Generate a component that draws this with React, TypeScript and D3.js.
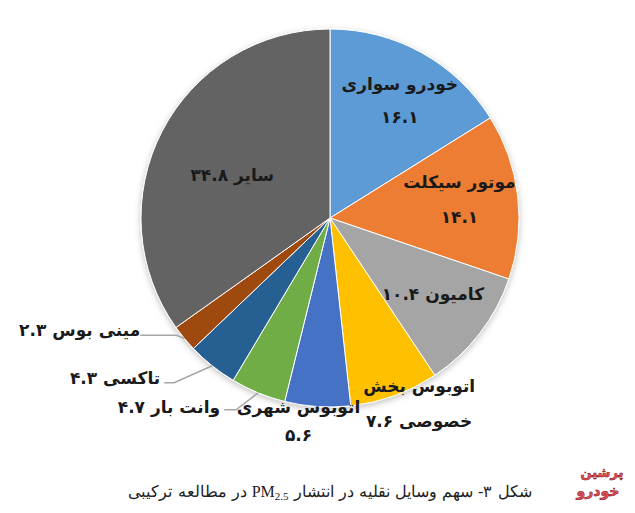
import React from 'react';
import * as d3 from 'd3';

const categories = ['خودرو سواری', 'موتور سیکلت', 'کامیون', 'اتوبوس بخش خصوصی', 'اتوبوس شهری', 'وانت بار', 'تاکسی', 'مینی بوس', 'سایر'];
const shares = [16.1, 14.1, 10.4, 7.6, 5.6, 4.7, 4.3, 2.3, 34.8];
const colors = ['#5B9BD5', '#ED7D31', '#A5A5A5', '#FFC000', '#4472C4', '#70AD47', '#255E91', '#9E480E', '#636363'];

// label lines per slice (number placeholder {v})
const labelLines = [
  ['خودرو سواری', '{v}'],
  ['موتور سیکلت', '{v}'],
  ['کامیون {v}'],
  ['اتوبوس بخش', 'خصوصی {v}'],
  ['اتوبوس شهری', '{v}'],
  ['وانت بار {v}'],
  ['تاکسی {v}'],
  ['مینی بوس {v}'],
  ['سایر {v}'],
];

const W = 635;
const H = 513;
const cx = 330;
const cy = 218;
const R = 189;

// layout: inside/near labels -> radius factor + offset; leader labels -> elbow/end offsets from edge
type Layout =
  | { kind: 'center'; k: number; ox: number; oy: number; gap: number }
  | { kind: 'leader'; elbow: [number, number]; end: [number, number]; textX: number; textY: number };

const layout: Layout[] = [
  { kind: 'center', k: 0.74, ox: 2, oy: 5, gap: 33 },
  { kind: 'center', k: 0.7, ox: -2, oy: -3, gap: 35 },
  { kind: 'center', k: 0.66, ox: 4, oy: 0, gap: 0 },
  { kind: 'center', k: 1.07, ox: 20, oy: -4, gap: 35 },
  { kind: 'center', k: 1.08, ox: -18, oy: -1, gap: 28 },
  { kind: 'leader', elbow: [-22, 17], end: [-34, 17], textX: -38, textY: 14 },
  { kind: 'leader', elbow: [-38, 17], end: [-48, 17], textX: -52, textY: 12 },
  { kind: 'leader', elbow: [-8, -3], end: [-44, -3], textX: -44, textY: -8 },
  { kind: 'center', k: 0.57, ox: -2, oy: 6, gap: 0 },
];

const faDigits = (s: string) => s.replace(/[0-9]/g, (d) => '۰۱۲۳۴۵۶۷۸۹'[+d]);
const font = '"DejaVu Sans", sans-serif';

export default function App() {
  const pie = d3.pie<number>().sort(null).value((d) => d);
  const arcs = pie(shares);
  const arc = d3.arc<d3.PieArcDatum<number>>().innerRadius(0).outerRadius(R);
  const polar = (a: number, r: number): [number, number] => [cx + r * Math.sin(a), cy - r * Math.cos(a)];

  return (
    <svg width={W} height={H} style={{ position: 'absolute', left: 0, top: 0, background: '#fff' }}>
      <defs>
        <filter id="sh" x="-20%" y="-20%" width="140%" height="140%">
          <feDropShadow dx="0" dy="2" stdDeviation="3" floodColor="#000" floodOpacity="0.25" />
        </filter>
      </defs>
      <g transform={`translate(${cx},${cy})`} filter="url(#sh)">
        {arcs.map((a, i) => (
          <path key={i} d={arc(a) || ''} fill={colors[i]} stroke="#fff" strokeWidth={1} />
        ))}
      </g>
      {arcs.map((a, i) => {
        const mid = (a.startAngle + a.endAngle) / 2;
        const L = layout[i];
        const lines = labelLines[i].map((t) => faDigits(t.replace('{v}', shares[i].toFixed(1))));
        if (L.kind === 'center') {
          const [px, py] = polar(mid, R * L.k);
          const x = px + L.ox;
          const y0 = py + L.oy - ((lines.length - 1) * L.gap) / 2;
          return (
            <g key={i}>
              {lines.map((t, j) => (
                <text key={j} x={x} y={y0 + j * L.gap} dy="0.35em" textAnchor="middle" direction="rtl"
                  fontFamily={font} fontSize={17} fontWeight="bold" fill="#1a1a1a">{t}</text>
              ))}
            </g>
          );
        }
        const [ex, ey] = polar(mid, R);
        const pts: [number, number][] = [[ex, ey], [ex + L.elbow[0], ey + L.elbow[1]], [ex + L.end[0], ey + L.end[1]]];
        return (
          <g key={i}>
            <path d={d3.line()(pts) || ''} fill="none" stroke="#a6a6a6" strokeWidth={1.5} />
            <text x={ex + L.textX} y={ey + L.textY} dy="0.35em" textAnchor="start" direction="rtl"
              fontFamily={font} fontSize={17} fontWeight="bold" fill="#1a1a1a">{lines[0]}</text>
          </g>
        );
      })}
      <text x={330} y={497} textAnchor="middle" direction="rtl" fontFamily='"DejaVu Serif", "Liberation Serif", serif'
        fontSize={16} fill="#222">
        {'شکل ۳- سهم وسایل نقلیه در انتشار '}
        <tspan fontFamily='"Liberation Serif", serif'>PM</tspan>
        <tspan fontFamily='"Liberation Serif", serif' fontSize={11} dy={3}>2.5</tspan>
        <tspan dy={-3}>{' در مطالعه ترکیبی'}</tspan>
      </text>
      <g fontFamily={font} fontWeight="bold" fill="#e8505b" stroke="#8b1d24" strokeWidth={0.6} textAnchor="middle" direction="rtl">
        <text x={602} y={477} fontSize={13}>پرشین</text>
        <text x={598} y={496} fontSize={14}>خودرو</text>
      </g>
    </svg>
  );
}
